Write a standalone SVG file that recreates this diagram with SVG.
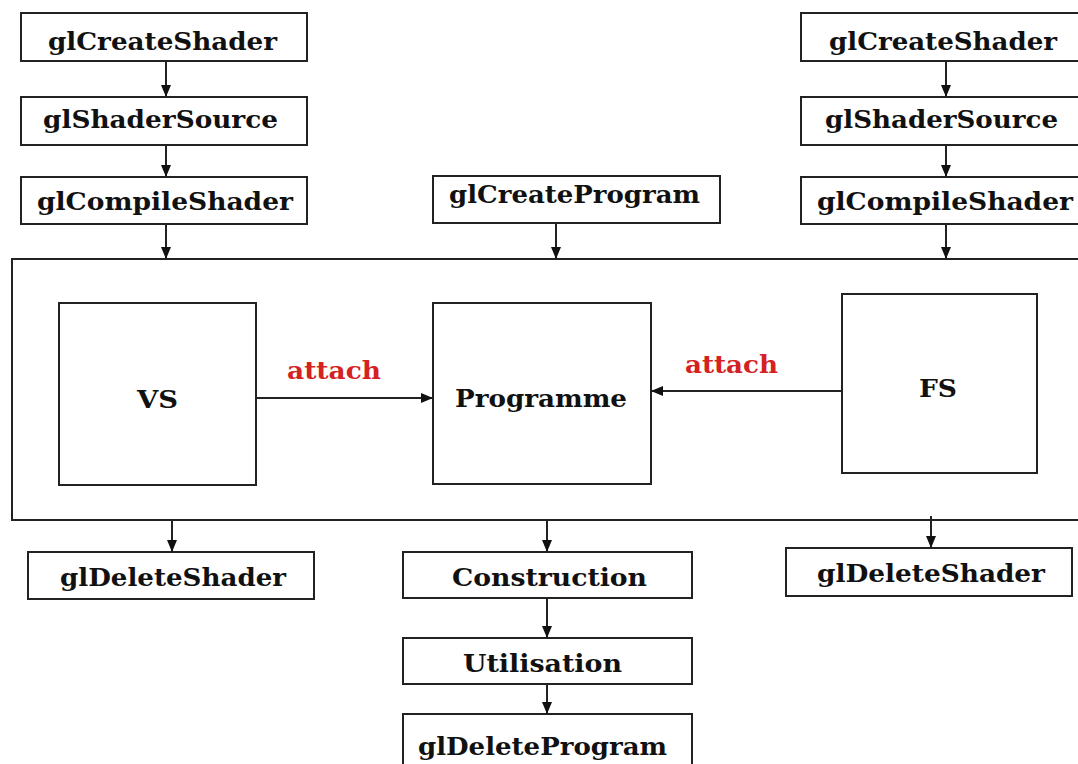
<svg xmlns="http://www.w3.org/2000/svg" width="1078" height="764" viewBox="0 0 1078 764">
<defs>
<style>
.box{fill:#fff;stroke:#222;stroke-width:2}
.lbl{font-family:"DejaVu Serif","Liberation Serif",serif;font-weight:bold;font-size:24px;fill:#111}
.red{font-family:"DejaVu Serif","Liberation Serif",serif;font-weight:bold;font-size:24px;fill:#d42222}
.con{stroke:#222;stroke-width:2;fill:none;marker-end:url(#ah)}
</style>
<marker id="ah" markerUnits="userSpaceOnUse" markerWidth="12" markerHeight="12" viewBox="0 0 12 12" refX="12" refY="6" orient="auto">
<path d="M0,1 L12,6 L0,11 Z" fill="#111"/>
</marker>
</defs>
<rect width="1078" height="764" fill="#fff"/>
<g id="container"><rect class="box" x="12" y="259" width="1076" height="261"/></g>
<g id="l-create"><rect class="box" x="21" y="13" width="286" height="48"/><text class="lbl" x="48" y="50" textLength="229" lengthAdjust="spacingAndGlyphs">glCreateShader</text></g>
<g id="l-source"><rect class="box" x="21" y="97" width="286" height="48"/><text class="lbl" x="43" y="128" textLength="235" lengthAdjust="spacingAndGlyphs">glShaderSource</text></g>
<g id="l-compile"><rect class="box" x="21" y="177" width="286" height="47"/><text class="lbl" x="37" y="210" textLength="256" lengthAdjust="spacingAndGlyphs">glCompileShader</text></g>
<g id="create-program"><rect class="box" x="433" y="176" width="287" height="47"/><text class="lbl" x="449" y="203" textLength="251" lengthAdjust="spacingAndGlyphs">glCreateProgram</text></g>
<g id="r-create"><rect class="box" x="801" y="13" width="290" height="48"/><text class="lbl" x="829" y="50" textLength="228" lengthAdjust="spacingAndGlyphs">glCreateShader</text></g>
<g id="r-source"><rect class="box" x="801" y="97" width="290" height="48"/><text class="lbl" x="825" y="128" textLength="233" lengthAdjust="spacingAndGlyphs">glShaderSource</text></g>
<g id="r-compile"><rect class="box" x="801" y="177" width="290" height="47"/><text class="lbl" x="817" y="210" textLength="256" lengthAdjust="spacingAndGlyphs">glCompileShader</text></g>
<g id="vs"><rect class="box" x="59" y="303" width="197" height="182"/><text class="lbl" x="137" y="408" textLength="41" lengthAdjust="spacingAndGlyphs">VS</text></g>
<g id="programme"><rect class="box" x="433" y="303" width="218" height="181"/><text class="lbl" x="455" y="407" textLength="172" lengthAdjust="spacingAndGlyphs">Programme</text></g>
<g id="fs"><rect class="box" x="842" y="294" width="195" height="179"/><text class="lbl" x="919" y="397" textLength="38" lengthAdjust="spacingAndGlyphs">FS</text></g>
<g id="l-delete"><rect class="box" x="28" y="552" width="286" height="47"/><text class="lbl" x="60" y="586" textLength="226" lengthAdjust="spacingAndGlyphs">glDeleteShader</text></g>
<g id="r-delete"><rect class="box" x="786" y="548" width="286" height="48"/><text class="lbl" x="817" y="582" textLength="228" lengthAdjust="spacingAndGlyphs">glDeleteShader</text></g>
<g id="construction"><rect class="box" x="403" y="552" width="289" height="46"/><text class="lbl" x="452" y="586" textLength="195" lengthAdjust="spacingAndGlyphs">Construction</text></g>
<g id="utilisation"><rect class="box" x="403" y="638" width="289" height="46"/><text class="lbl" x="463" y="672" textLength="159" lengthAdjust="spacingAndGlyphs">Utilisation</text></g>
<g id="delete-program"><rect class="box" x="403" y="714" width="289" height="60"/><text class="lbl" x="418" y="755" textLength="249" lengthAdjust="spacingAndGlyphs">glDeleteProgram</text></g>
<g id="connectors">
<line class="con" x1="166" y1="61" x2="166" y2="97"/>
<line class="con" x1="166" y1="145" x2="166" y2="177"/>
<line class="con" x1="166" y1="224" x2="166" y2="259"/>
<line class="con" x1="946" y1="61" x2="946" y2="97"/>
<line class="con" x1="946" y1="145" x2="946" y2="177"/>
<line class="con" x1="946" y1="224" x2="946" y2="259"/>
<line class="con" x1="556" y1="223" x2="556" y2="259"/>
<line class="con" x1="256" y1="398" x2="433" y2="398"/>
<line class="con" x1="842" y1="391" x2="651" y2="391"/>
<line class="con" x1="172" y1="520" x2="172" y2="552"/>
<line class="con" x1="547" y1="520" x2="547" y2="552"/>
<line class="con" x1="547" y1="598" x2="547" y2="638"/>
<line class="con" x1="547" y1="684" x2="547" y2="714"/>
<line class="con" x1="931" y1="516" x2="931" y2="548"/>
<text class="red" x="287" y="379" textLength="94" lengthAdjust="spacingAndGlyphs">attach</text>
<text class="red" x="685" y="373" textLength="93" lengthAdjust="spacingAndGlyphs">attach</text>
</g>
</svg>
